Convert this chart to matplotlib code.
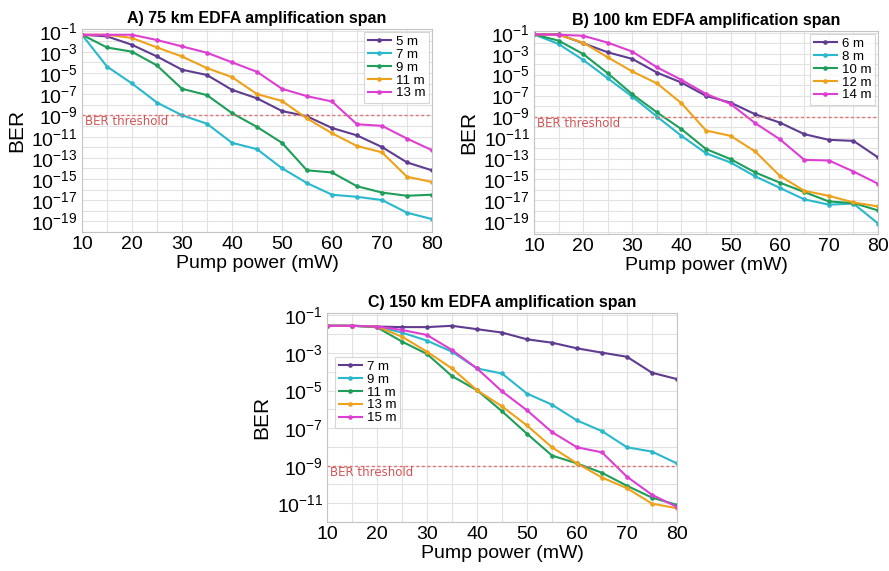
import numpy as np
import matplotlib.pyplot as plt
from matplotlib.ticker import FixedLocator, MultipleLocator, LogFormatterSciNotation

plt.rcParams['font.family'] = ['Liberation Sans', 'DejaVu Sans']

# pump power, mW
pump = [10, 15, 20, 25, 30, 35, 40, 45, 50, 55, 60, 65, 70, 75, 80]

# BER values given as log10(BER)
# A) 75 km span
labels_a = ['5 m', '7 m', '9 m', '11 m', '13 m']
a_5m = [-1.38, -1.53, -2.33, -3.43, -4.68, -5.18, -6.58, -7.38, -8.58, -9.08, -10.18, -10.88, -11.98, -13.43, -14.18]
a_7m = [-1.38, -4.38, -5.98, -7.78, -8.98, -9.78, -11.58, -12.18, -13.98, -15.38, -16.48, -16.68, -16.98, -18.18, -18.78]
a_9m = [-1.38, -2.58, -2.98, -4.28, -6.48, -7.08, -8.78, -10.08, -11.58, -14.18, -14.38, -15.68, -16.28, -16.58, -16.48]
a_11m = [-1.38, -1.38, -1.68, -2.58, -3.43, -4.53, -5.38, -6.98, -7.63, -9.28, -10.68, -11.88, -12.48, -14.78, -15.28]
a_13m = [-1.38, -1.38, -1.38, -1.88, -2.48, -3.08, -3.98, -4.88, -6.48, -7.18, -7.68, -9.83, -9.98, -11.18, -12.28]

# B) 100 km span
labels_b = ['6 m', '8 m', '10 m', '12 m', '14 m']
b_6m = [-1.16, -1.16, -2.0, -2.87, -3.5, -4.8, -5.76, -7.03, -7.67, -8.78, -9.57, -10.68, -11.22, -11.32, -12.9]
b_8m = [-1.16, -2.08, -3.6, -5.35, -7.1, -9.0, -10.84, -12.5, -13.38, -14.7, -15.8, -16.9, -17.4, -17.3, -19.2]
b_10m = [-1.16, -1.76, -3.03, -4.87, -6.87, -8.6, -10.2, -12.1, -13.06, -14.33, -15.3, -16.2, -17.1, -17.25, -17.95]
b_12m = [-1.16, -1.2, -1.95, -3.35, -4.7, -5.83, -7.73, -10.33, -10.84, -12.33, -14.65, -16.08, -16.56, -17.19, -17.57]
b_14m = [-1.16, -1.2, -1.29, -1.95, -2.8, -4.3, -5.5, -6.84, -7.8, -9.63, -11.16, -13.13, -13.19, -14.24, -15.41]

# C) 150 km span
labels_c = ['7 m', '9 m', '11 m', '13 m', '15 m']
c_7m = [-1.55, -1.55, -1.59, -1.62, -1.62, -1.55, -1.73, -1.91, -2.27, -2.45, -2.75, -2.98, -3.2, -4.05, -4.39]
c_9m = [-1.55, -1.55, -1.59, -1.91, -2.34, -2.93, -3.82, -4.09, -5.16, -5.75, -6.59, -7.16, -8.02, -8.25, -8.88]
c_11m = [-1.55, -1.55, -1.63, -2.39, -3.05, -4.23, -4.98, -6.1, -7.3, -8.46, -8.88, -9.38, -10.07, -10.7, -11.09]
c_13m = [-1.55, -1.55, -1.59, -2.13, -2.93, -3.82, -4.98, -5.84, -6.86, -8.02, -8.88, -9.63, -10.2, -11.02, -11.27]
c_15m = [-1.55, -1.55, -1.59, -1.77, -2.04, -2.84, -3.82, -5.04, -6.05, -7.21, -8.02, -8.29, -9.59, -10.55, -11.2]

ber_threshold = 1e-9
colors = ['#5e3c8f', '#2ab8cc', '#1f9e5a', '#eea21c', '#de3fd3']


def panel(ax, title, series, labels, ymin, ymax, yticks, legend_loc):
    for s, lab, col in zip(series, labels, colors):
        ax.plot(pump, 10.0 ** np.array(s), color=col, lw=1.5, marker='o', ms=2.3, label=lab)
    ax.axhline(ber_threshold, color='#e07070', lw=1.0, ls=(0, (2, 2)))
    ax.text(10.7, ber_threshold, 'BER threshold', color='#d45555', fontsize=8.5,
            family=['DejaVu Sans'], va='top', ha='left', transform=ax.transData)
    ax.set_yscale('log')
    ax.set_xlim(10, 80)
    ax.set_ylim(ymin, ymax)
    ax.yaxis.set_major_locator(FixedLocator(yticks))
    ax.yaxis.set_major_formatter(LogFormatterSciNotation())
    ax.yaxis.set_minor_locator(FixedLocator([10.0 ** k for k in range(-20, 1)]))
    ax.yaxis.set_minor_formatter(plt.NullFormatter())
    ax.xaxis.set_major_locator(MultipleLocator(10))
    ax.xaxis.set_minor_locator(MultipleLocator(5))
    ax.grid(True, which='both', color='#e2e2e2', lw=0.8)
    ax.set_axisbelow(True)
    ax.tick_params(which='both', length=0, labelsize=14, pad=3)
    for sp in ax.spines.values():
        sp.set_color('#c4c4c4')
    ax.set_title(title, fontsize=11.5, fontweight='bold', pad=4)
    ax.set_xlabel('Pump power (mW)', fontsize=14, labelpad=1)
    ax.set_ylabel('BER', fontsize=15, labelpad=4)
    if legend_loc == 'upper right':
        leg = ax.legend(loc='upper right', fontsize=9.5, handlelength=1.7, labelspacing=0.05,
                        borderpad=0.3, handletextpad=0.4, fancybox=False, borderaxespad=0.2)
    else:
        leg = ax.legend(loc='center left', bbox_to_anchor=(0.005, 0.62), fontsize=9.5,
                        handlelength=1.7, labelspacing=0.05, borderpad=0.3,
                        handletextpad=0.4, fancybox=False)
    leg.get_frame().set_edgecolor('#cccccc')
    leg.get_frame().set_linewidth(0.8)


fig = plt.figure(figsize=(8.89, 5.71), dpi=100)
ax_a = fig.add_axes([0.0922, 0.5937, 0.3937, 0.3555])
ax_b = fig.add_axes([0.6007, 0.5902, 0.3870, 0.3555])
ax_c = fig.add_axes([0.3678, 0.0858, 0.3937, 0.366])

odd_ticks = [10.0 ** -k for k in range(1, 20, 2)]
panel(ax_a, 'A) 75 km EDFA amplification span', [a_5m, a_7m, a_9m, a_11m, a_13m], labels_a,
      1e-20, 0.145, odd_ticks, 'upper right')
panel(ax_b, 'B) 100 km EDFA amplification span', [b_6m, b_8m, b_10m, b_12m, b_14m], labels_b,
      10 ** -20.2, 0.145, odd_ticks, 'upper right')
panel(ax_c, 'C) 150 km EDFA amplification span', [c_7m, c_9m, c_11m, c_13m, c_15m], labels_c,
      1e-12, 0.135, [10.0 ** -k for k in range(1, 12, 2)], 'left')

fig.savefig('out.png', dpi=100)
